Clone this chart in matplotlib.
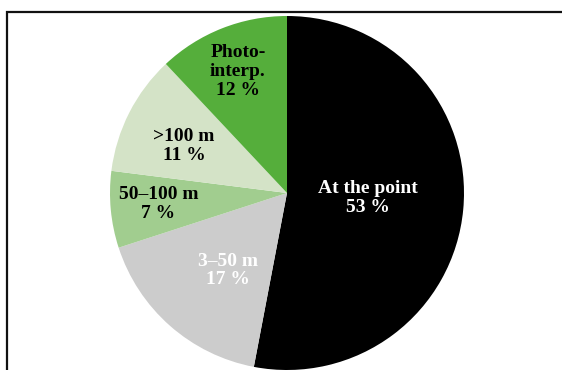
import numpy as np
import matplotlib
matplotlib.use("Agg")
import matplotlib.pyplot as plt
from matplotlib.patches import Rectangle

# data
labels = ["At the point", "3\u201350 m", "50\u2013100 m", ">100 m", "Photo-\ninterp."]
values = [53, 17, 7, 11, 12]
colors = ["#000000", "#cccccc", "#a1cd8f", "#d4e3c7", "#55ae3b"]
text_colors = ["white", "white", "black", "black", "black"]
# label placement: radius fraction and angular nudge (deg) from wedge middle
label_r = [0.46, 0.55, 0.73, 0.64, 0.74]
label_dth = [2.0, 4.0, -0.5, 2.4, 0.4]

plt.rcParams['font.family'] = ['Liberation Serif', 'DejaVu Serif']

fig = plt.figure(figsize=(5.62, 3.70), dpi=100)

# frame around chart (only left/top visible in the crop)
fig.patches.append(Rectangle((7/562, -0.2), 1.2, 0.2 + (370-12)/370,
                             transform=fig.transFigure, fill=False,
                             edgecolor="#111111", linewidth=1.6, zorder=0))

ax = fig.add_axes([110/562, 0.0, 354/562, 354/370])
wedges, _ = ax.pie(values, colors=colors, startangle=90, counterclock=False,
                   radius=1.0, wedgeprops=dict(linewidth=0))
ax.set_xlim(-1, 1)
ax.set_ylim(-1, 1)
ax.set_aspect("equal")

for w, lab, v, tc, r, dth in zip(wedges, labels, values, text_colors, label_r, label_dth):
    ang = np.deg2rad((w.theta1 + w.theta2) / 2 + dth)
    ax.text(r*np.cos(ang), r*np.sin(ang), f"{lab}\n{v} %", ha="center", va="center",
            color=tc, fontsize=14, fontweight="bold", linespacing=1.12)

fig.savefig("out.png", dpi=100)
